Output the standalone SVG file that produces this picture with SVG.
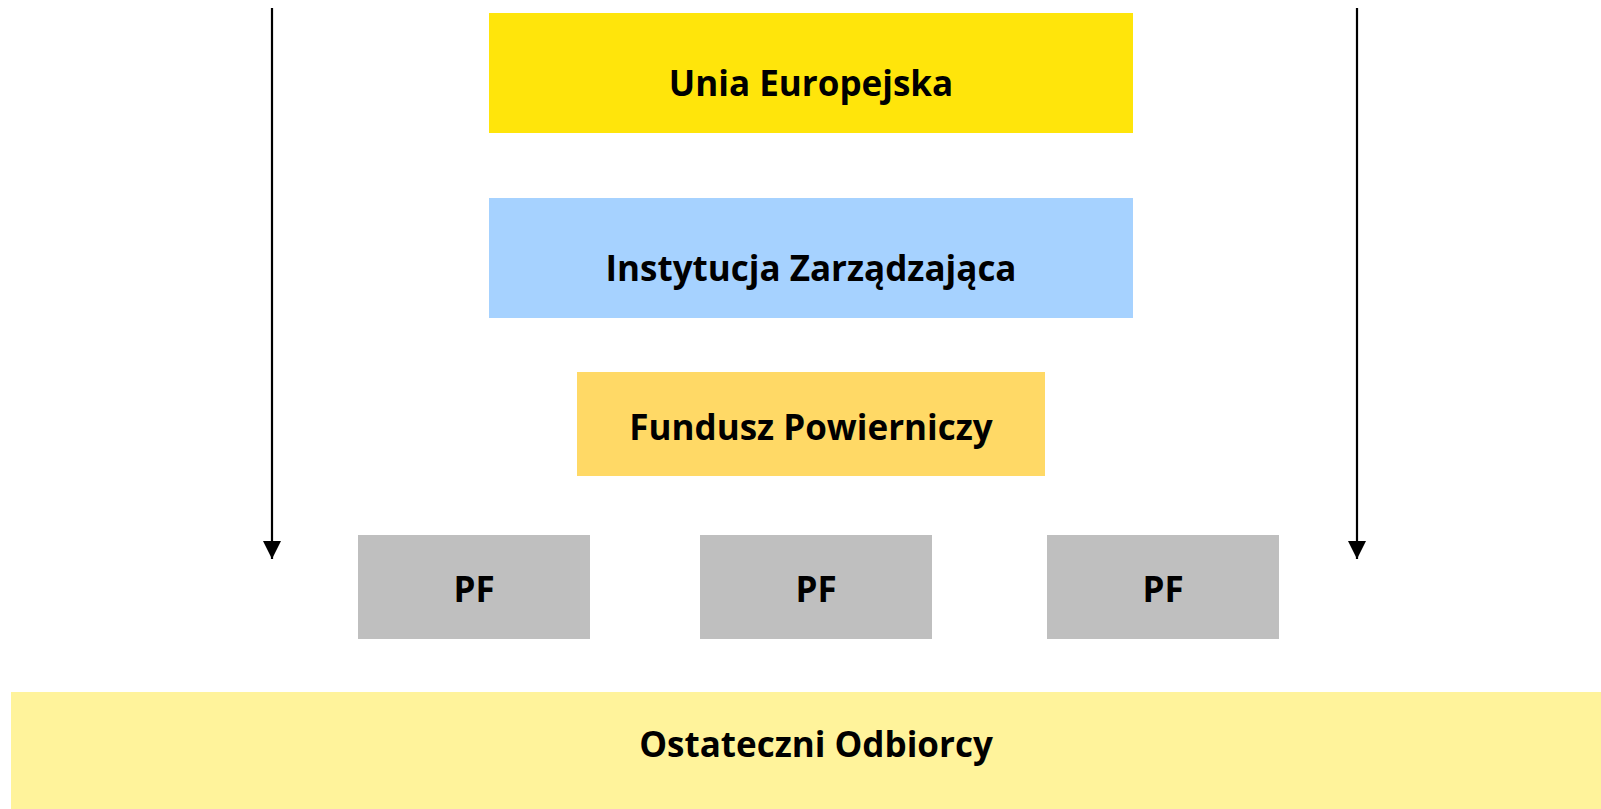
<svg xmlns="http://www.w3.org/2000/svg" width="1601" height="809" viewBox="0 0 1601 809">
<style>
.t{font-family:"Open Sans","Liberation Sans",sans-serif;font-weight:bold;fill:#000;text-anchor:middle}
.big{font-size:35px}
.conn{stroke:#000;stroke-width:2.2;fill:none}
</style>
<defs>
<marker id="ah" markerUnits="userSpaceOnUse" markerWidth="18" markerHeight="18" refX="16" refY="8" orient="auto" viewBox="0 0 16 16">
<path d="M0,0 L16,8 L0,16 Z" fill="#000"/>
</marker>
</defs>
<rect width="1601" height="809" fill="#fff"/>
<g id="connectors">
<line class="conn" x1="272" y1="8" x2="272" y2="559" marker-end="url(#ah)"/>
<line class="conn" x1="1357" y1="8" x2="1357" y2="559" marker-end="url(#ah)"/>
</g>
<g id="ue">
<rect x="489" y="13" width="644" height="120" fill="#FFE50B"/>
<text class="t big" x="811" y="96">Unia Europejska</text>
</g>
<g id="iz">
<rect x="489" y="198" width="644" height="120" fill="#A6D2FF"/>
<text class="t big" x="811" y="281">Instytucja Zarządzająca</text>
</g>
<g id="fp">
<rect x="577" y="372" width="468" height="104" fill="#FFD966"/>
<text class="t big" x="811" y="440">Fundusz Powierniczy</text>
</g>
<g id="pf1">
<rect x="358" y="535" width="232" height="104" fill="#BFBFBF"/>
<text class="t big" x="474" y="602">PF</text>
</g>
<g id="pf2">
<rect x="700" y="535" width="232" height="104" fill="#BFBFBF"/>
<text class="t big" x="816" y="602">PF</text>
</g>
<g id="pf3">
<rect x="1047" y="535" width="232" height="104" fill="#BFBFBF"/>
<text class="t big" x="1163" y="602">PF</text>
</g>
<g id="oo">
<rect x="11" y="692" width="1590" height="117" fill="#FFF39B"/>
<text class="t big" x="816" y="757">Ostateczni Odbiorcy</text>
</g>
</svg>
